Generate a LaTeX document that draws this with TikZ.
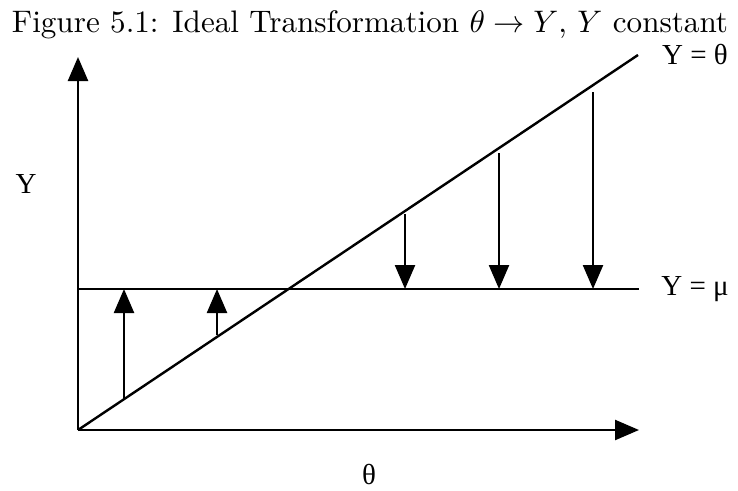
\documentclass[tikz,border=0pt]{standalone}
\usepackage{graphicx}
\usepackage{fontspec}
\newfontfamily\timesfont{Liberation Serif}
\usetikzlibrary{arrows.meta}
\begin{document}
\begin{tikzpicture}[x=1pt,y=-1pt,
  axisline/.style={line width=2.4pt},
  thinarrow/.style={line width=2.4pt,-{Triangle[width=20pt,length=24pt]}},
  lbl/.style={font=\timesfont\fontsize{29}{33}\selectfont,inner sep=0pt},
  titletext/.style={inner sep=0pt}]
\useasboundingbox (0,0) rectangle (738,490);
% coordinates
\coordinate (O) at (78,430);
\coordinate (ytop) at (78,57);
\coordinate (xend) at (639,430);
\coordinate (muL) at (78,289);
\coordinate (muR) at (639,289);
\coordinate (diagEnd) at (638,55);
% title
\node[titletext,anchor=base] (title) at (370,32) {\resizebox{716pt}{!}{Figure 5.1: Ideal Transformation $\theta \to Y$, $Y$ constant}};
% axes
\draw[thinarrow] (O) -- (ytop);
\draw[thinarrow] (O) -- (xend);
% lines
\draw[axisline] (muL) -- (muR);
\draw[axisline] (O) -- (diagEnd);
% up arrows
\coordinate (u1s) at (124,399);
\coordinate (u1e) at (124,289);
\coordinate (u2s) at (217,335);
\coordinate (u2e) at (217,289);
\draw[thinarrow] (u1s) -- (u1e);
\draw[thinarrow] (u2s) -- (u2e);
% down arrows
\coordinate (d1s) at (405,214);
\coordinate (d1e) at (405,289);
\coordinate (d2s) at (499,153);
\coordinate (d2e) at (499,289);
\coordinate (d3s) at (593,92);
\coordinate (d3e) at (593,289);
\draw[thinarrow] (d1s) -- (d1e);
\draw[thinarrow] (d2s) -- (d2e);
\draw[thinarrow] (d3s) -- (d3e);
% labels
\node[lbl] (ylab) at (26,184) {Y};
\node[lbl] (thlab) at (369,474) {θ};
\node[lbl] (ytheta) at (695,55) {Y = θ};
\node[lbl] (ymu) at (695,289) {Y = μ};
\end{tikzpicture}
\end{document}
